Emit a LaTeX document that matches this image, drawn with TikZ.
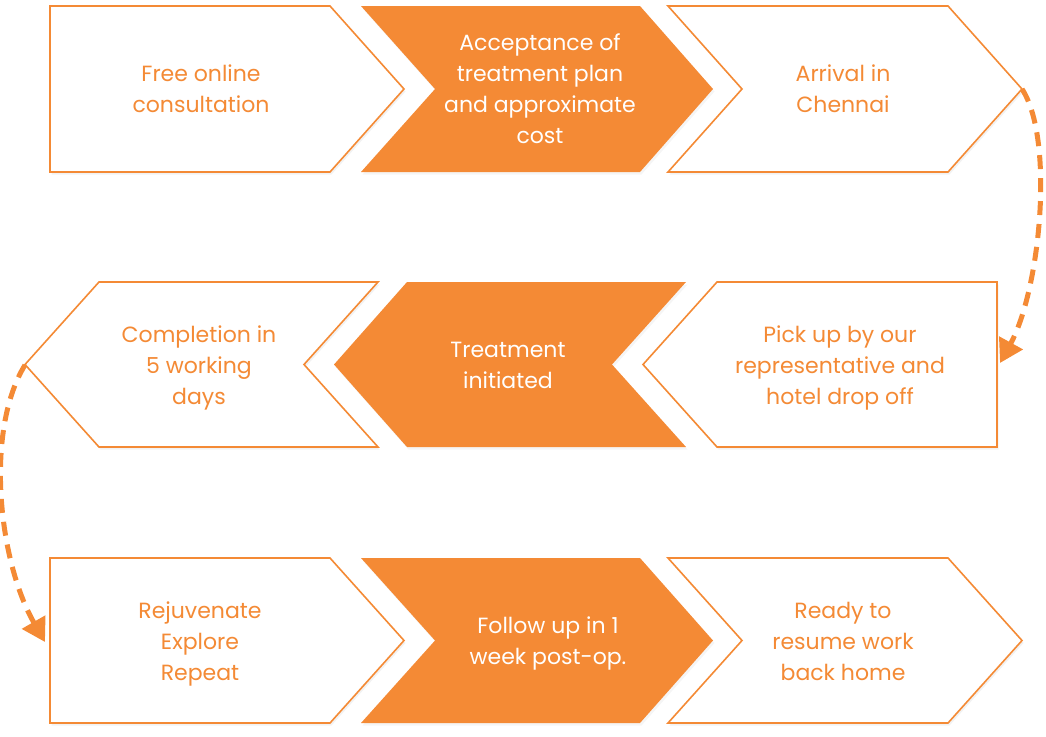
\documentclass[tikz,border=0pt]{standalone}
\usepackage{fontspec}
\setmainfont{Poppins}
\usetikzlibrary{arrows.meta,shadows}
\definecolor{brand}{HTML}{F48A35}
\begin{document}
\begin{tikzpicture}[x=1pt,y=-1pt,
  outline/.style={draw=brand,line width=1.6pt,fill=white,line join=miter,
    drop shadow={opacity=0.10,shadow xshift=1.5pt,shadow yshift=-2.5pt}},
  solidbox/.style={fill=brand,draw=none,
    drop shadow={opacity=0.08,shadow xshift=1.5pt,shadow yshift=-2.5pt}},
  lightlabel/.style={text=brand,font=\fontsize{22}{31}\selectfont,align=center,inner sep=0pt},
  darklabel/.style={text=white,font=\fontsize{22}{31}\selectfont,align=center,inner sep=0pt},
  flow/.style={draw=brand,line width=5pt,dash pattern=on 14pt off 9pt,
    -{Triangle[length=23pt,width=26pt,fill=brand]}}]
\useasboundingbox (0,0) rectangle (1046,736);
% row 1
\draw[outline] (50,6) -- (330,6) -- (404,89) -- (330,172) -- (50,172) -- cycle;
\fill[solidbox] (361,6) -- (640,6) -- (713,89) -- (640,172) -- (361,172) -- (435,89) -- cycle;
\draw[outline] (668,6) -- (948,6) -- (1022,89) -- (948,172) -- (668,172) -- (742,89) -- cycle;
% row 2
\draw[outline] (997,282) -- (717,282) -- (643,364.5) -- (717,447) -- (997,447) -- cycle;
\fill[solidbox] (686,282) -- (407,282) -- (334,364.5) -- (407,447) -- (686,447) -- (612,364.5) -- cycle;
\draw[outline] (378,282) -- (99,282) -- (25,364.5) -- (99,447) -- (378,447) -- (304,364.5) -- cycle;
% row 3
\draw[outline] (50,558) -- (330,558) -- (404,640.5) -- (330,723) -- (50,723) -- cycle;
\fill[solidbox] (361,558) -- (640,558) -- (713,640.5) -- (640,723) -- (361,723) -- (435,640.5) -- cycle;
\draw[outline] (668,558) -- (948,558) -- (1022,640.5) -- (948,723) -- (668,723) -- (742,640.5) -- cycle;
% labels
\node[lightlabel] (n1) at (201,89) {Free online\\consultation};
\node[darklabel] (n2) at (540,89) {Acceptance of\\treatment plan\\and approximate\\cost};
\node[lightlabel] (n3) at (843,89) {Arrival in\\Chennai};
\node[lightlabel] (n4) at (840,368) {Pick up by our\\representative and\\hotel drop off};
\node[darklabel] (n5) at (508,365) {Treatment\\initiated};
\node[lightlabel] (n6) at (199,368) {Completion in\\5 working\\days};
\node[lightlabel] (n7) at (200,644) {Rejuvenate\\Explore\\Repeat};
\node[darklabel] (n8) at (548,643) {Follow up in 1\\week post-op.};
\node[lightlabel] (n9) at (843,641) {Ready to\\resume work\\back home};
% connector ends
\coordinate (t3) at (1022,89);
\coordinate (e4) at (1000,363);
\coordinate (t6) at (25,365);
\coordinate (e7) at (45,642);
\draw[flow] (t3) .. controls (1055,140) and (1040,290) .. (e4);
\draw[flow] (t6) .. controls (-15,430) and (-2,560) .. (e7);
\end{tikzpicture}
\end{document}
